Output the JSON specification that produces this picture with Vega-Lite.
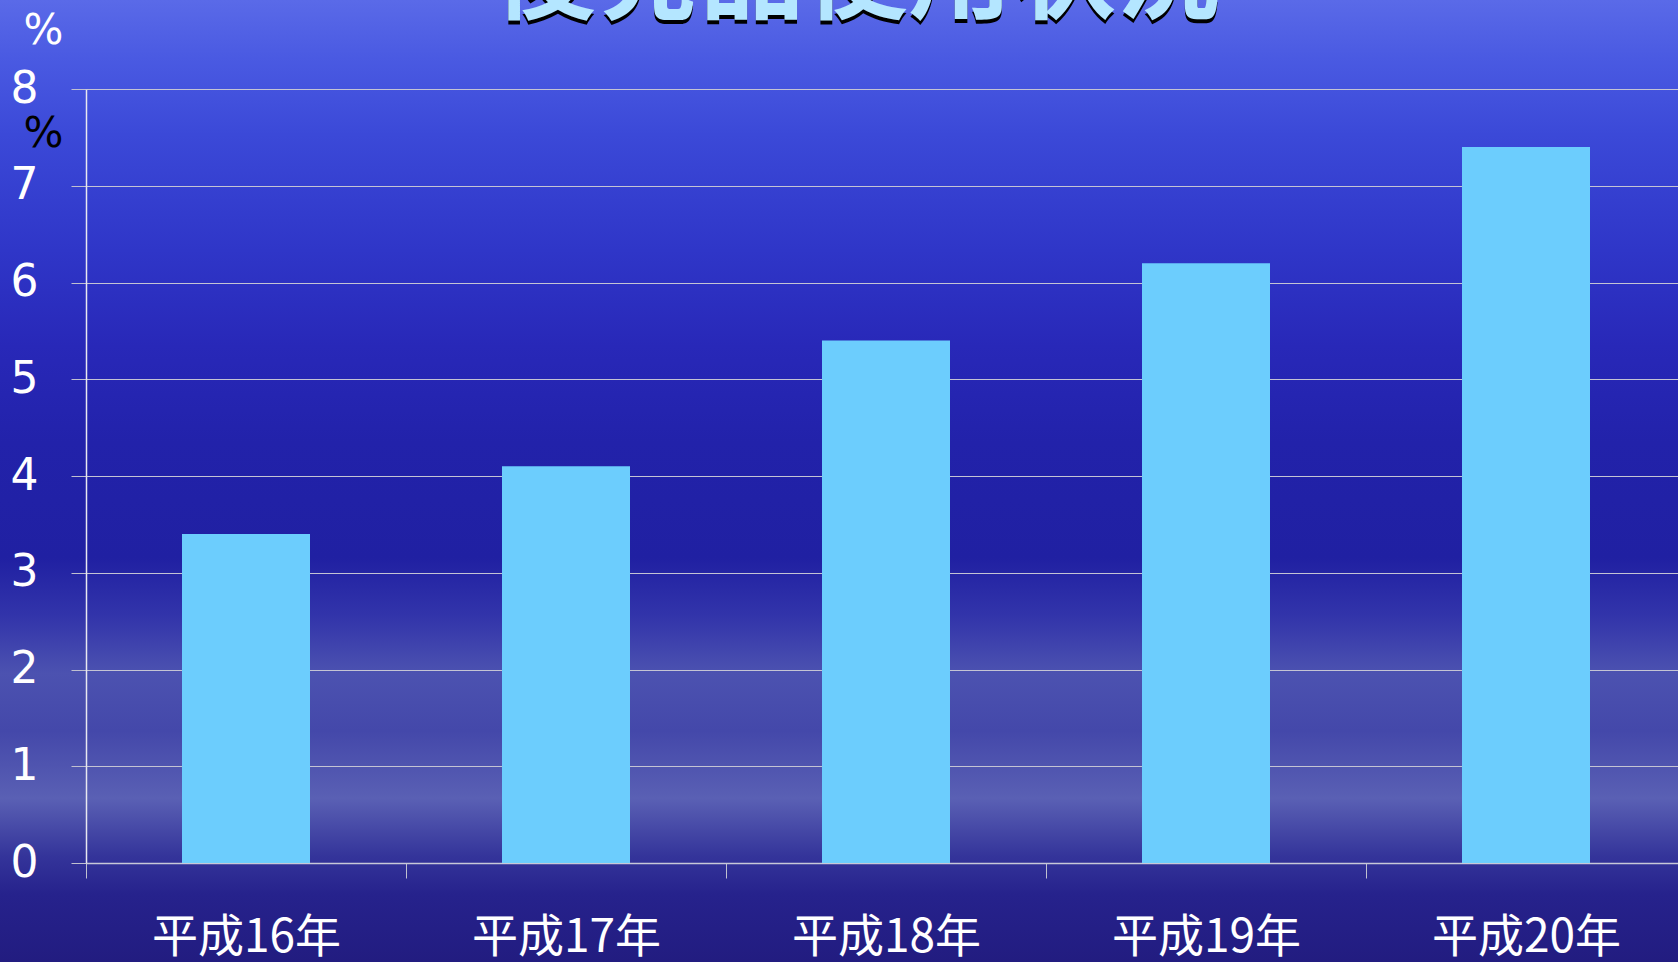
{
  "$schema": "https://vega.github.io/schema/vega-lite/v6.json",
  "width": 1678,
  "height": 962,
  "autosize": "none",
  "padding": 0,
  "background": "#2a2aa8",
  "view": {
    "stroke": null,
    "fill": {
      "gradient": "linear",
      "x1": 0, "y1": 0, "x2": 0, "y2": 1,
      "stops": [
        {"offset": 0.0, "color": "#5a6ae8"},
        {"offset": 0.06, "color": "#4a5ae2"},
        {"offset": 0.14, "color": "#3b49d8"},
        {"offset": 0.26, "color": "#2f36c8"},
        {"offset": 0.36, "color": "#2828b8"},
        {"offset": 0.46, "color": "#2222aa"},
        {"offset": 0.58, "color": "#2020a2"},
        {"offset": 0.64, "color": "#3234aa"},
        {"offset": 0.70, "color": "#4c52b0"},
        {"offset": 0.76, "color": "#4448aa"},
        {"offset": 0.83, "color": "#5a60b4"},
        {"offset": 0.89, "color": "#34349a"},
        {"offset": 0.93, "color": "#26228c"},
        {"offset": 1.0, "color": "#221c80"}
      ]
    }
  },
  "title": {
    "text": "\u2009後発品使用状況",
    "subtitle": "後発品使用状況",
    "font": "Noto Sans CJK JP",
    "fontSize": 104,
    "fontWeight": "bold",
    "color": "#000000",
    "subtitleFont": "Noto Sans CJK JP",
    "subtitleFontSize": 104,
    "subtitleFontWeight": "bold",
    "subtitleColor": "#b4e6ff",
    "subtitlePadding": -108,
    "anchor": "middle",
    "baseline": "alphabetic",
    "offset": -123,
    "dx": 17
  },
  "data": {
    "values": [
      {"year": "平成16年", "value": 3.4},
      {"year": "平成17年", "value": 4.1},
      {"year": "平成18年", "value": 5.4},
      {"year": "平成19年", "value": 6.2},
      {"year": "平成20年", "value": 7.4}
    ]
  },
  "mark": {"type": "bar", "color": "#6ccdfd", "width": {"band": 0.4}},
  "encoding": {
    "x": {
      "field": "year",
      "type": "nominal",
      "sort": null,
      "scale": {"range": [86, 1686], "paddingInner": 0, "paddingOuter": 0},
      "axis": {
        "orient": "bottom",
        "offset": -99,
        "domain": true,
        "domainColor": "#c8c8d8",
        "domainWidth": 1.5,
        "ticks": true,
        "tickBand": "extent",
        "tickSize": 15,
        "tickColor": "#c0c0d0",
        "grid": false,
        "labelAngle": 0,
        "labelLimit": 0,
        "labelColor": "#ffffff",
        "labelFont": "Noto Sans CJK JP",
        "labelFontSize": 46,
        "labelPadding": 37,
        "title": "%",
        "titleColor": "#000000",
        "titleFont": "DejaVu Sans",
        "titleFontSize": 42,
        "titleFontWeight": "normal",
        "titleX": 43,
        "titleY": -730,
        "titleAlign": "center",
        "titleBaseline": "middle",
        "titleAngle": 0
      }
    },
    "y": {
      "field": "value",
      "type": "quantitative",
      "scale": {"domain": [0, 8], "range": [863, 89], "nice": false},
      "axis": {
        "orient": "left",
        "offset": -86,
        "values": [0, 1, 2, 3, 4, 5, 6, 7, 8],
        "domain": true,
        "domainColor": "#e8e8f0",
        "domainWidth": 1.5,
        "ticks": true,
        "tickSize": 15,
        "tickColor": "#c0c0d0",
        "grid": true,
        "gridColor": "#c4c4d4",
        "gridWidth": 1.2,
        "labelColor": "#ffffff",
        "labelFont": "DejaVu Sans",
        "labelFontSize": 44,
        "labelPadding": 33,
        "labelAlign": "right",
        "labelBaseline": "middle",
        "title": "%",
        "titleColor": "#ffffff",
        "titleFont": "DejaVu Sans",
        "titleFontSize": 42,
        "titleFontWeight": "normal",
        "titleAngle": 0,
        "titleX": -43,
        "titleY": 30,
        "titleAlign": "center",
        "titleBaseline": "middle"
      }
    }
  }
}
